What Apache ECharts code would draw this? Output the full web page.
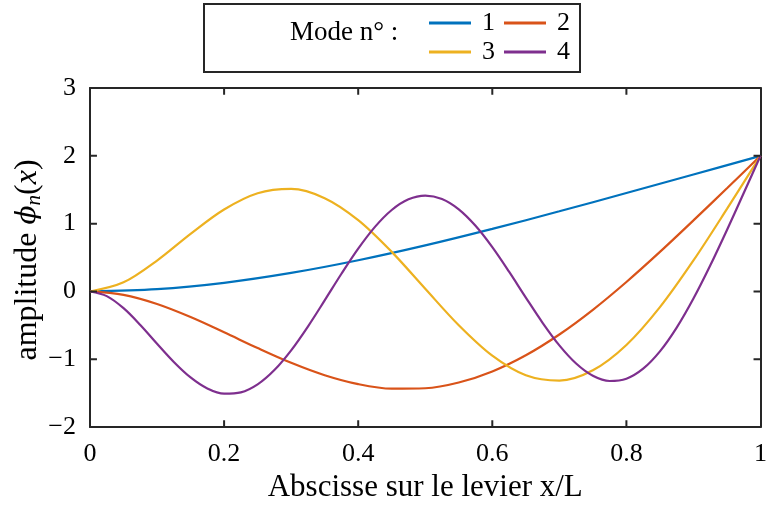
<!DOCTYPE html>
<html>
<head>
<meta charset="utf-8">
<script src="https://cdn.jsdelivr.net/npm/echarts@6/dist/echarts.min.js"></script>
<style>
html,body{margin:0;padding:0;background:#fff;}
#chart{width:770px;height:508px;}
</style>
</head>
<body>
<div id="chart"></div>
<script>
// Abscissa samples (x/L)
const x10 = [0,0.1,0.2,0.3,0.4,0.5,0.6,0.7,0.8,0.9,1];
const x20 = [0,0.05,0.1,0.15,0.2,0.25,0.3,0.35,0.4,0.45,0.5,0.55,0.6,0.65,0.7,0.75,0.8,0.85,0.9,0.95,1];
const x40 = [0,0.025,0.05,0.075,0.1,0.125,0.15,0.175,0.2,0.225,0.25,0.275,0.3,0.325,0.35,0.375,0.4,0.425,0.45,0.475,0.5,0.525,0.55,0.575,0.6,0.625,0.65,0.675,0.7,0.725,0.75,0.775,0.8,0.825,0.85,0.875,0.9,0.925,0.95,0.975,1];

// Mode shapes (amplitude)
const mode1 = [0,0.0336,0.1277,0.2730,0.4598,0.6790,0.9223,1.1818,1.4510,1.7248,2.0];
const mode2 = [0,-0.0507,-0.1853,-0.3776,-0.6021,-0.8345,-1.0523,-1.2353,-1.3669,-1.4339,-1.4273,-1.3425,-1.1790,-0.9404,-0.6341,-0.2700,0.1401,0.5833,1.0475,1.5221,2.0];
const mode3 = [0,0.1341,0.4562,0.8497,1.2091,1.4490,1.5125,1.3761,1.0519,0.5835,0.0394,-0.4986,-0.9475,-1.2361,-1.3149,-1.1629,-0.7897,-0.2317,0.4570,1.2170,2.0];
const mode4 = [0,-0.0686,-0.2469,-0.4939,-0.7700,-1.0387,-1.2675,-1.4302,-1.5076,-1.4885,-1.3703,-1.1589,-0.8677,-0.5169,-0.1315,0.2608,0.6311,0.9524,1.2011,1.3589,1.4142,1.3634,1.2106,0.9675,0.6530,0.2911,-0.0904,-0.4620,-0.7948,-1.0624,-1.2428,-1.3204,-1.2861,-1.1385,-0.8833,-0.5328,-0.1041,0.3828,0.9072,1.4507,2.0];

// Tick values
const xTicks = [0.2,0.4,0.6,0.8];
const yTicks = [-1,0,1,2];

const modeNames = ['1','2','3','4'];
const legendTitle = 'Mode n° :';
const xTitle = 'Abscisse sur le levier x/L';

const colors = ['#0072BD','#D95319','#EDB120','#7E2F8E'];
const axisColor = '#262626';
const FONT = '"Liberation Serif", "Times New Roman", serif';

const X_MIN = 0, X_MAX = 1, Y_MIN = -2, Y_MAX = 3;
const GRID_W = 674, GRID_H = 347, TICK_PX = 7;
// tick length expressed in axis units (7 px)
const TY = TICK_PX / GRID_H * (Y_MAX - Y_MIN);
const TX = TICK_PX / GRID_W * (X_MAX - X_MIN);

function pairs(xs, ys){ return xs.map((x,i)=>[x, ys[i]]); }
const seriesData = [pairs(x10,mode1), pairs(x20,mode2), pairs(x20,mode3), pairs(x40,mode4)];

// inward tick segments, separated by empty points
const xTickData = [];
xTicks.forEach(v => {
  xTickData.push([v, Y_MIN], [v, Y_MIN + TY], [v, '-']);
  xTickData.push([v, Y_MAX], [v, Y_MAX - TY], [v, '-']);
});
const yTickData = [];
yTicks.forEach(v => {
  yTickData.push([X_MIN, v], [X_MIN + TX, v], ['-', v]);
  yTickData.push([X_MAX, v], [X_MAX - TX, v], ['-', v]);
});

const chart = echarts.init(document.getElementById('chart'), null, {renderer:'canvas'});

function frameAxis(){
  return {
    axisLine:{show:true, onZero:false, lineStyle:{color:axisColor, width:2}},
    axisTick:{show:false},
    splitLine:{show:false}
  };
}

const legendBase = {
  left:429, padding:0, itemWidth:42, itemHeight:3, itemGap:9, icon:'rect', selectedMode:false,
  textStyle:{fontFamily:FONT, fontSize:26, color:'#000', padding:[0,0,0,6]}
};

const xCommon = {type:'value', min:X_MIN, max:X_MAX, interval:0.2};
const yCommon = {type:'value', min:Y_MIN, max:Y_MAX, interval:1};

function tickSeries(name, data){
  return {
    name:name, type:'line', xAxisIndex:0, yAxisIndex:0,
    data:data, connectNulls:false, smooth:false,
    showSymbol:false, symbol:'none', silent:true, clip:false,
    lineStyle:{width:2, color:axisColor}, itemStyle:{color:axisColor},
    z:10
  };
}

chart.setOption({
  animation:false,
  backgroundColor:'#fff',
  color: colors,
  grid:{left:90, top:88, width:GRID_W, height:GRID_H, containLabel:false},
  legend:[
    Object.assign({}, legendBase, {data: modeNames.slice(0,2), top:10}),
    Object.assign({}, legendBase, {data: modeNames.slice(2,4), top:39})
  ],
  xAxis:[
    Object.assign(frameAxis(), xCommon, {
      position:'bottom',
      axisLabel:{show:true, margin:14, fontFamily:FONT, fontSize:26, color:'#000'},
      name: xTitle, nameLocation:'middle', nameGap:41,
      nameTextStyle:{fontFamily:FONT, fontSize:31, color:'#000'}
    }),
    Object.assign(frameAxis(), xCommon, {position:'top', axisLabel:{show:false}})
  ],
  yAxis:[
    Object.assign(frameAxis(), yCommon, {
      position:'left',
      axisLabel:{show:true, margin:14, fontFamily:FONT, fontSize:26, color:'#000',
        formatter: v => String(v).replace('-', '\u2212')}
    }),
    Object.assign(frameAxis(), yCommon, {position:'right', axisLabel:{show:false}})
  ],
  graphic:[
    {type:'rect', z:0, shape:{x:204, y:4, width:376, height:68},
     style:{fill:'#fff', stroke:axisColor, lineWidth:2}},
    {type:'text', z:10, x:290, y:33,
     style:{text:legendTitle, font:'27px ' + FONT, fill:'#000', textAlign:'left', textVerticalAlign:'middle'}},
    {type:'text', z:10, x:28, y:260, rotation:Math.PI/2,
     style:{
       text:'{a|amplitude }{p|\u03D5}{s|n}{a|(}{i|x}{a|)}',
       textAlign:'center', textVerticalAlign:'middle',
       rich:{
         a:{fontFamily:FONT, fontSize:32, fill:'#000', color:'#000', lineHeight:34, verticalAlign:'middle'},
         p:{fontFamily:'"DejaVu Serif", serif', fontStyle:'italic', fontSize:28, color:'#000', fill:'#000', lineHeight:34, verticalAlign:'middle'},
         s:{fontFamily:FONT, fontStyle:'italic', fontSize:21, color:'#000', fill:'#000', lineHeight:17, verticalAlign:'bottom'},
         i:{fontFamily:FONT, fontStyle:'italic', fontSize:32, color:'#000', fill:'#000', lineHeight:34, verticalAlign:'middle'}
       }
     }}
  ],
  series: modeNames.map((n,i)=>({
    name:n, type:'line', xAxisIndex:0, yAxisIndex:0,
    data: seriesData[i],
    smooth:0.33, showSymbol:false, symbol:'none',
    lineStyle:{width:2.2, color:colors[i]},
    itemStyle:{color:colors[i]},
    z:2+i
  })).concat([tickSeries('xTickMarks', xTickData), tickSeries('yTickMarks', yTickData)])
});
</script>
</body>
</html>
